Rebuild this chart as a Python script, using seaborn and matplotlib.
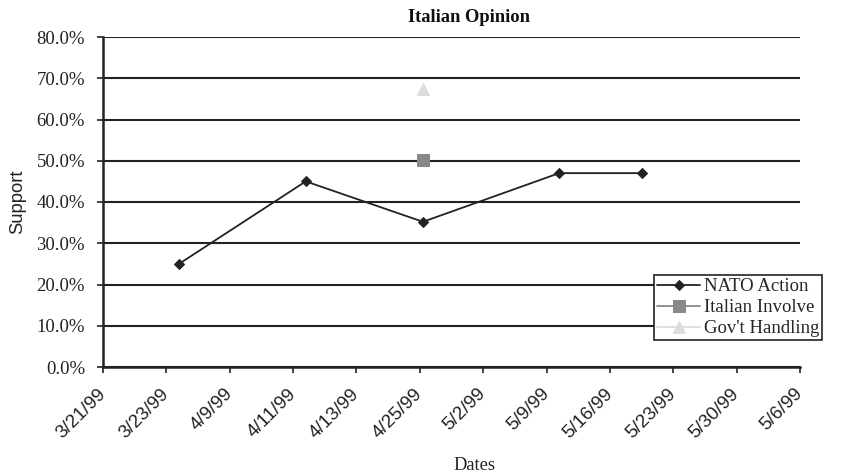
import matplotlib
matplotlib.use("Agg")
import matplotlib.pyplot as plt
import seaborn as sns
import pandas as pd

# ---- data ----
date_labels = ["3/21/99", "3/23/99", "4/9/99", "4/11/99", "4/13/99", "4/25/99",
               "5/2/99", "5/9/99", "5/16/99", "5/23/99", "5/30/99", "5/6/99"]
nato_x = [1.2, 3.2, 5.05, 7.2, 8.5]
nato_y = [25.0, 45.0, 35.2, 47.0, 47.0]
italian_x = [5.05]
italian_y = [50.2]
govt_x = [5.05]
govt_y = [67.3]
series_names = ["NATO Action", "Italian Involve", "Gov't Handling"]
y_ticks = [0, 10, 20, 30, 40, 50, 60, 70, 80]

df = pd.concat([
    pd.DataFrame({"x": nato_x, "y": nato_y, "series": series_names[0]}),
    pd.DataFrame({"x": italian_x, "y": italian_y, "series": series_names[1]}),
    pd.DataFrame({"x": govt_x, "y": govt_y, "series": series_names[2]}),
])

sns.set_style("white")
serif = ["Liberation Serif", "DejaVu Serif"]
sans = ["Liberation Sans", "DejaVu Sans"]

W, H = 843, 475
fig = plt.figure(figsize=(W/100, H/100), dpi=100)
ax = fig.add_axes([103/W, 1-367/H, 697/W, 330/H])

palette = {series_names[0]: "#222222", series_names[1]: "#888888", series_names[2]: "#dddddd"}
markers = {series_names[0]: "D", series_names[1]: "s", series_names[2]: "^"}
sizes = {series_names[0]: 5, series_names[1]: 8, series_names[2]: 9}

for name in series_names:
    sub = df[df["series"] == name]
    sns.lineplot(data=sub, x="x", y="y", ax=ax, color=palette[name], marker=markers[name],
                 markersize=sizes[name], markeredgecolor=palette[name], linewidth=1.3,
                 label=name, estimator=None, sort=False)

ax.set_xlim(0, 11)
ax.set_ylim(0, 80)
ax.set_yticks(y_ticks)
ax.set_yticklabels([f"{v:.1f}%" for v in y_ticks], fontfamily=serif, fontsize=13.5, color="#222222")
ax.set_xticks(range(len(date_labels)))
ax.set_xticklabels(date_labels, rotation=45, ha="right", va="center", rotation_mode="anchor",
                   fontfamily=sans, fontsize=13.5, color="#222222")
ax.tick_params(axis="both", direction="out", length=4, width=1.2, color="#222222", bottom=True, left=True)
ax.tick_params(axis="x", pad=13.5)
ax.tick_params(axis="y", pad=9)

ax.grid(axis="y", color="#222222", linewidth=1.5)
ax.grid(axis="x", visible=False)
ax.set_axisbelow(True)
for s in ["top", "right"]:
    ax.spines[s].set_visible(False)
for s in ["left", "bottom"]:
    ax.spines[s].set_color("#222222")
    ax.spines[s].set_linewidth(1.8)

ax.set_xlabel("")
ax.set_ylabel("")
fig.text(469/W, 1-18/H, "Italian Opinion", fontfamily=serif, fontweight="bold", fontsize=13.3,
         ha="center", va="center", color="#111111")
fig.text(474/W, 1-465/H, "Dates", fontfamily=serif, fontsize=13.3, ha="center", va="center", color="#222222")
fig.text(18/W, 1-202/H, "Support", fontfamily=sans, fontsize=13.3, rotation=90,
         ha="center", va="center", color="#222222")

leg = ax.legend(loc="lower right", bbox_to_anchor=(1.032, 0.082), frameon=True, fancybox=False,
                prop={"family": serif, "size": 13.5}, borderpad=0.15, labelspacing=0.2,
                handlelength=2.3, handletextpad=0.2, borderaxespad=0)
leg.get_frame().set_edgecolor("#222222")
leg.get_frame().set_linewidth(1.2)
leg.get_frame().set_alpha(1)

fig.savefig("out.png", dpi=100)
